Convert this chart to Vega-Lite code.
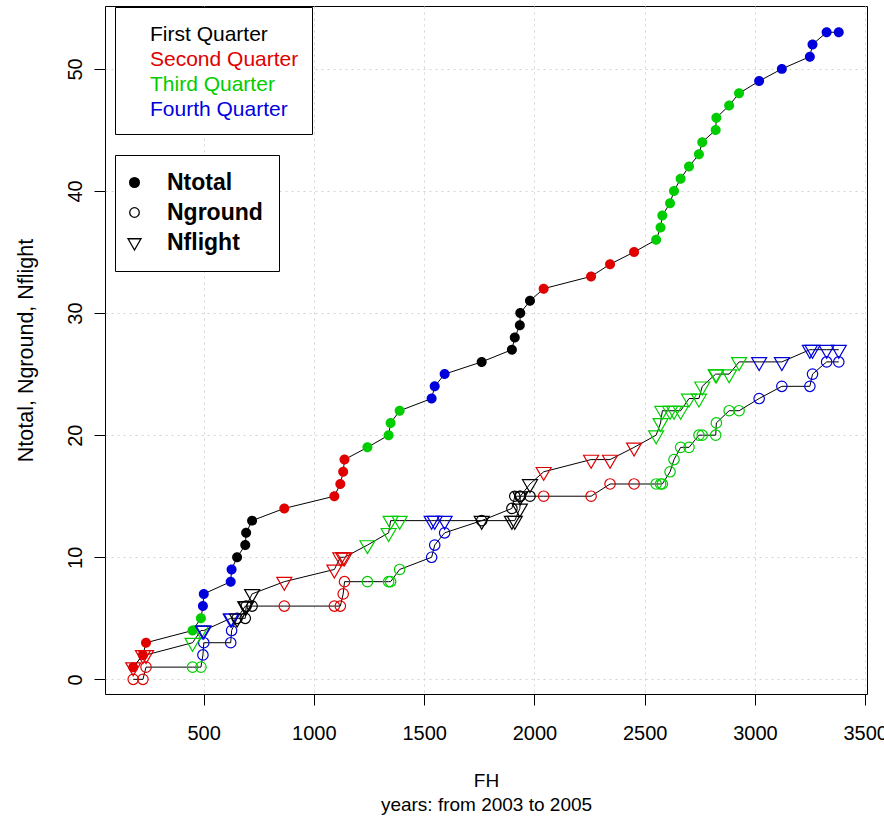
{
  "$schema": "https://vega.github.io/schema/vega-lite/v6.json",
  "width": 762,
  "height": 688,
  "autosize": "none",
  "padding": {"left": 105, "top": 6, "right": 17, "bottom": 127},
  "background": "white",
  "config": {
    "view": {"stroke": "black", "strokeWidth": 1},
    "font": "Liberation Sans"
  },
  "data": {"values": [
    {"ev":1,"FH":181,"Ntotal":1,"Nground":0,"Nflight":1,"quarter":"Second Quarter"},
    {"ev":2,"FH":225,"Ntotal":2,"Nground":0,"Nflight":2,"quarter":"Second Quarter"},
    {"ev":3,"FH":239,"Ntotal":3,"Nground":1,"Nflight":2,"quarter":"Second Quarter"},
    {"ev":4,"FH":450,"Ntotal":4,"Nground":1,"Nflight":3,"quarter":"Third Quarter"},
    {"ev":5,"FH":488,"Ntotal":5,"Nground":1,"Nflight":4,"quarter":"Third Quarter"},
    {"ev":6,"FH":497,"Ntotal":6,"Nground":2,"Nflight":4,"quarter":"Fourth Quarter"},
    {"ev":7,"FH":501,"Ntotal":7,"Nground":3,"Nflight":4,"quarter":"Fourth Quarter"},
    {"ev":8,"FH":623,"Ntotal":8,"Nground":3,"Nflight":5,"quarter":"Fourth Quarter"},
    {"ev":9,"FH":627,"Ntotal":9,"Nground":4,"Nflight":5,"quarter":"Fourth Quarter"},
    {"ev":10,"FH":652,"Ntotal":10,"Nground":5,"Nflight":5,"quarter":"First Quarter"},
    {"ev":11,"FH":689,"Ntotal":11,"Nground":5,"Nflight":6,"quarter":"First Quarter"},
    {"ev":12,"FH":693,"Ntotal":12,"Nground":6,"Nflight":6,"quarter":"First Quarter"},
    {"ev":13,"FH":720,"Ntotal":13,"Nground":6,"Nflight":7,"quarter":"First Quarter"},
    {"ev":14,"FH":866,"Ntotal":14,"Nground":6,"Nflight":8,"quarter":"Second Quarter"},
    {"ev":15,"FH":1093,"Ntotal":15,"Nground":6,"Nflight":9,"quarter":"Second Quarter"},
    {"ev":16,"FH":1120,"Ntotal":16,"Nground":6,"Nflight":10,"quarter":"Second Quarter"},
    {"ev":17,"FH":1133,"Ntotal":17,"Nground":7,"Nflight":10,"quarter":"Second Quarter"},
    {"ev":18,"FH":1139,"Ntotal":18,"Nground":8,"Nflight":10,"quarter":"Second Quarter"},
    {"ev":19,"FH":1243,"Ntotal":19,"Nground":8,"Nflight":11,"quarter":"Third Quarter"},
    {"ev":20,"FH":1339,"Ntotal":20,"Nground":8,"Nflight":12,"quarter":"Third Quarter"},
    {"ev":21,"FH":1348,"Ntotal":21,"Nground":8,"Nflight":13,"quarter":"Third Quarter"},
    {"ev":22,"FH":1389,"Ntotal":22,"Nground":9,"Nflight":13,"quarter":"Third Quarter"},
    {"ev":23,"FH":1534,"Ntotal":23,"Nground":10,"Nflight":13,"quarter":"Fourth Quarter"},
    {"ev":24,"FH":1548,"Ntotal":24,"Nground":11,"Nflight":13,"quarter":"Fourth Quarter"},
    {"ev":25,"FH":1593,"Ntotal":25,"Nground":12,"Nflight":13,"quarter":"Fourth Quarter"},
    {"ev":26,"FH":1761,"Ntotal":26,"Nground":13,"Nflight":13,"quarter":"First Quarter"},
    {"ev":27,"FH":1898,"Ntotal":27,"Nground":14,"Nflight":13,"quarter":"First Quarter"},
    {"ev":28,"FH":1911,"Ntotal":28,"Nground":15,"Nflight":13,"quarter":"First Quarter"},
    {"ev":29,"FH":1934,"Ntotal":29,"Nground":15,"Nflight":14,"quarter":"First Quarter"},
    {"ev":30,"FH":1936,"Ntotal":30,"Nground":15,"Nflight":15,"quarter":"First Quarter"},
    {"ev":31,"FH":1980,"Ntotal":31,"Nground":15,"Nflight":16,"quarter":"First Quarter"},
    {"ev":32,"FH":2042,"Ntotal":32,"Nground":15,"Nflight":17,"quarter":"Second Quarter"},
    {"ev":33,"FH":2257,"Ntotal":33,"Nground":15,"Nflight":18,"quarter":"Second Quarter"},
    {"ev":34,"FH":2343,"Ntotal":34,"Nground":16,"Nflight":18,"quarter":"Second Quarter"},
    {"ev":35,"FH":2452,"Ntotal":35,"Nground":16,"Nflight":19,"quarter":"Second Quarter"},
    {"ev":36,"FH":2552,"Ntotal":36,"Nground":16,"Nflight":20,"quarter":"Third Quarter"},
    {"ev":37,"FH":2572,"Ntotal":37,"Nground":16,"Nflight":21,"quarter":"Third Quarter"},
    {"ev":38,"FH":2580,"Ntotal":38,"Nground":16,"Nflight":22,"quarter":"Third Quarter"},
    {"ev":39,"FH":2615,"Ntotal":39,"Nground":17,"Nflight":22,"quarter":"Third Quarter"},
    {"ev":40,"FH":2633,"Ntotal":40,"Nground":18,"Nflight":22,"quarter":"Third Quarter"},
    {"ev":41,"FH":2663,"Ntotal":41,"Nground":19,"Nflight":22,"quarter":"Third Quarter"},
    {"ev":42,"FH":2701,"Ntotal":42,"Nground":19,"Nflight":23,"quarter":"Third Quarter"},
    {"ev":43,"FH":2746,"Ntotal":43,"Nground":20,"Nflight":23,"quarter":"Third Quarter"},
    {"ev":44,"FH":2761,"Ntotal":44,"Nground":20,"Nflight":24,"quarter":"Third Quarter"},
    {"ev":45,"FH":2822,"Ntotal":45,"Nground":20,"Nflight":25,"quarter":"Third Quarter"},
    {"ev":46,"FH":2825,"Ntotal":46,"Nground":21,"Nflight":25,"quarter":"Third Quarter"},
    {"ev":47,"FH":2883,"Ntotal":47,"Nground":22,"Nflight":25,"quarter":"Third Quarter"},
    {"ev":48,"FH":2928,"Ntotal":48,"Nground":22,"Nflight":26,"quarter":"Third Quarter"},
    {"ev":49,"FH":3019,"Ntotal":49,"Nground":23,"Nflight":26,"quarter":"Fourth Quarter"},
    {"ev":50,"FH":3122,"Ntotal":50,"Nground":24,"Nflight":26,"quarter":"Fourth Quarter"},
    {"ev":51,"FH":3249,"Ntotal":51,"Nground":24,"Nflight":27,"quarter":"Fourth Quarter"},
    {"ev":52,"FH":3261,"Ntotal":52,"Nground":25,"Nflight":27,"quarter":"Fourth Quarter"},
    {"ev":53,"FH":3325,"Ntotal":53,"Nground":26,"Nflight":27,"quarter":"Fourth Quarter"},
    {"ev":54,"FH":3380,"Ntotal":53,"Nground":26,"Nflight":27,"quarter":"Fourth Quarter"}
  ]},
  "transform": [{"fold": ["Ntotal", "Nground", "Nflight"], "as": ["series", "N"]}],
  "encoding": {
    "x": {
      "field": "FH", "type": "quantitative",
      "scale": {"domain": [53, 3508], "nice": false, "zero": false},
      "axis": {
        "values": [500, 1000, 1500, 2000, 2500, 3000, 3500], "format": "d",
        "grid": true, "gridColor": "#D3D3D3", "gridDash": [2, 4], "gridWidth": 1,
        "domain": false, "tickColor": "black", "tickSize": 11, "tickWidth": 1,
        "labelFontSize": 20, "labelColor": "black", "labelBaseline": "alphabetic",
        "labelPadding": 34, "labelFlush": false, "labelOverlap": false, "labelBound": false,
        "title": ["FH", "years: from 2003 to 2005"],
        "titleFontSize": 19, "titleFontWeight": "normal", "titleColor": "black",
        "titleX": 381, "titleY": 92, "titleBaseline": "alphabetic", "titleAlign": "center",
        "titleLineHeight": 24
      }
    },
    "y": {
      "field": "N", "type": "quantitative",
      "scale": {"domain": [-1.2, 55.15], "nice": false, "zero": false},
      "axis": {
        "values": [0, 10, 20, 30, 40, 50],
        "grid": true, "gridColor": "#D3D3D3", "gridDash": [2, 4], "gridWidth": 1,
        "domain": false, "tickColor": "black", "tickSize": 11, "tickWidth": 1,
        "labelFontSize": 20, "labelColor": "black", "labelAngle": -90,
        "labelAlign": "center", "labelBaseline": "alphabetic", "labelPadding": 13,
        "labelOverlap": false, "labelBound": false, "labelFlush": false,
        "title": "Ntotal, Nground, Nflight",
        "titleFontSize": 21.5, "titleFontWeight": "normal", "titleColor": "black",
        "titleAngle": -90, "titleX": -79, "titleY": 344, "titleBaseline": "middle", "titleAlign": "center"
      }
    }
  },
  "layer": [
    {
      "mark": {"type": "line", "color": "black", "strokeWidth": 1},
      "encoding": {
        "detail": {"field": "series"},
        "order": {"field": "ev", "type": "quantitative"}
      }
    },
    {
      "transform": [{"filter": "datum.series === 'Ntotal'"}],
      "mark": {"type": "point", "filled": true, "size": 156, "opacity": 1},
      "encoding": {
        "color": {
          "field": "quarter", "type": "nominal",
          "scale": {"domain": ["First Quarter", "Second Quarter", "Third Quarter", "Fourth Quarter"], "range": ["#000000", "#E00000", "#00CD00", "#0000DD"]},
          "legend": {
            "title": null, "orient": "none", "legendX": 10, "legendY": 1,
            "strokeColor": "black", "fillColor": "white", "padding": 13, "cornerRadius": 0,
            "labelFontSize": 21, "labelFont": "Liberation Sans", "labelOffset": 1,
            "symbolSize": 0, "symbolOpacity": 0, "rowPadding": 0.3,
            "encode": {"labels": {"update": {"fill": {"signal": "scale('color', datum.value)"}, "dy": {"value": 4}}}}
          }
        },
        "shape": {
          "field": "series", "type": "nominal",
          "scale": {
            "domain": ["Ntotal", "Nground", "Nflight"],
            "range": [
              "M-0.8,0A0.8,0.8,0,1,1,0.8,0A0.8,0.8,0,1,1,-0.8,0ZM-0.7,0A0.7,0.7,0,1,1,0.7,0A0.7,0.7,0,1,1,-0.7,0ZM-0.6,0A0.6,0.6,0,1,1,0.6,0A0.6,0.6,0,1,1,-0.6,0ZM-0.5,0A0.5,0.5,0,1,1,0.5,0A0.5,0.5,0,1,1,-0.5,0ZM-0.4,0A0.4,0.4,0,1,1,0.4,0A0.4,0.4,0,1,1,-0.4,0ZM-0.3,0A0.3,0.3,0,1,1,0.3,0A0.3,0.3,0,1,1,-0.3,0ZM-0.2,0A0.2,0.2,0,1,1,0.2,0A0.2,0.2,0,1,1,-0.2,0ZM-0.1,0A0.1,0.1,0,1,1,0.1,0A0.1,0.1,0,1,1,-0.1,0Z",
              "M-0.78,0A0.78,0.78,0,1,1,0.78,0A0.78,0.78,0,1,1,-0.78,0Z",
              "M-1.06,-0.61L1.06,-0.61L0,1.22Z"
            ]
          },
          "legend": {
            "title": null, "orient": "none", "legendX": 10, "legendY": 149,
            "strokeColor": "black", "fillColor": "white", "padding": 16, "cornerRadius": 0,
            "labelFontSize": 23, "labelFontWeight": "bold", "labelFont": "Liberation Sans", "labelColor": "black",
            "labelOffset": 21, "symbolOffset": -8, "symbolSize": 150, "rowPadding": 6,
            "symbolFillColor": "transparent", "symbolStrokeColor": "black", "symbolStrokeWidth": 1.3, "symbolOpacity": 1
          }
        }
      }
    },
    {
      "transform": [{"filter": "datum.series === 'Nground'"}],
      "mark": {"type": "point", "filled": false, "size": 180, "strokeWidth": 1.2, "opacity": 1},
      "encoding": {
        "color": {"field": "quarter", "type": "nominal"},
        "shape": {"field": "series", "type": "nominal"}
      }
    },
    {
      "transform": [{"filter": "datum.series === 'Nflight'"}],
      "mark": {"type": "point", "filled": false, "size": 200, "strokeWidth": 1.2, "opacity": 1},
      "encoding": {
        "color": {"field": "quarter", "type": "nominal"},
        "shape": {"field": "series", "type": "nominal"}
      }
    }
  ]
}
